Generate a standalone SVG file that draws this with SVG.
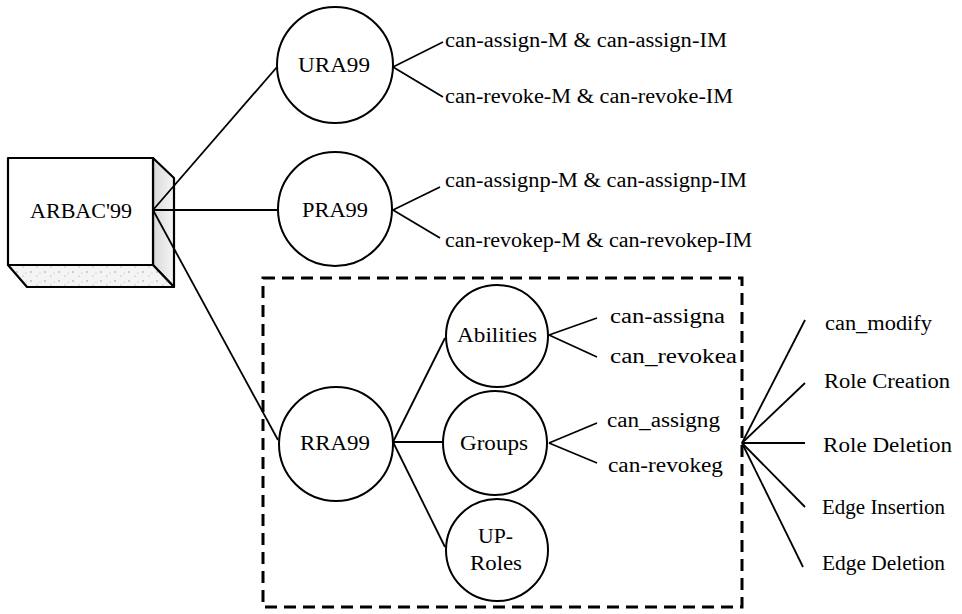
<svg xmlns="http://www.w3.org/2000/svg" width="962" height="614" viewBox="0 0 962 614">
  <style>
    .node { fill: #fff; stroke: #000; stroke-width: 2; }
    .lbl { font-family: "Liberation Serif", "DejaVu Serif", "Times New Roman", serif; font-size: 20px; fill: #000; }
    .edge { stroke: #000; stroke-width: 1.8; fill: none; }
    .frame { fill: none; stroke: #000; stroke-width: 3; stroke-dasharray: 12 7; }
    .box { stroke: #000; stroke-width: 2.2; stroke-linejoin: round; }
  </style>
  <defs>
    <linearGradient id="sideShade" x1="0" y1="0" x2="1" y2="0">
      <stop offset="0" stop-color="#d8d8d8"/>
      <stop offset="1" stop-color="#f6f6f6"/>
    </linearGradient>
    <pattern id="speckle" width="14" height="9" patternUnits="userSpaceOnUse">
      <rect width="14" height="9" fill="#f4f4f4"/>
      <circle cx="3" cy="2" r="0.7" fill="#888"/>
      <circle cx="9" cy="6" r="0.6" fill="#999"/>
      <circle cx="12" cy="3" r="0.5" fill="#aaa"/>
    </pattern>
  </defs>

  <!-- group frame around the role-role administration part -->
  <rect class="frame" x="263" y="278" width="479" height="329"/>

  <!-- ARBAC99 block -->
  <g id="arbac99" font-family="Liberation Serif, DejaVu Serif, serif">
    <polygon class="box" points="153,158 174,178 174,287 153,265" fill="url(#sideShade)"/>
    <polygon class="box" points="8,265 153,265 174,287 27,287" fill="url(#speckle)"/>
    <rect class="box" x="8" y="158" width="145" height="107" fill="#fff"/>
    <text class="lbl" x="30" y="218" textLength="102" lengthAdjust="spacingAndGlyphs">ARBAC'99</text>
  </g>

  <!-- connectors -->
  <g id="connectors">
    <line class="edge" x1="153" y1="210" x2="277" y2="67"/>
    <line class="edge" x1="153" y1="210" x2="277" y2="210"/>
    <line class="edge" x1="153" y1="210" x2="278" y2="440"/>

    <line class="edge" x1="393" y1="67" x2="443" y2="42"/>
    <line class="edge" x1="393" y1="67" x2="443" y2="97"/>

    <line class="edge" x1="393" y1="210" x2="440" y2="187"/>
    <line class="edge" x1="393" y1="210" x2="440" y2="238"/>

    <line class="edge" x1="393" y1="442" x2="445" y2="338"/>
    <line class="edge" x1="393" y1="442" x2="443" y2="442"/>
    <line class="edge" x1="393" y1="442" x2="445" y2="547"/>

    <line class="edge" x1="549" y1="335" x2="597" y2="318"/>
    <line class="edge" x1="549" y1="335" x2="597" y2="357"/>

    <line class="edge" x1="549" y1="443" x2="597" y2="423"/>
    <line class="edge" x1="549" y1="443" x2="597" y2="463"/>

    <line class="edge" x1="742" y1="443" x2="805" y2="320"/>
    <line class="edge" x1="742" y1="443" x2="805" y2="383"/>
    <line class="edge" x1="742" y1="443" x2="805" y2="443"/>
    <line class="edge" x1="742" y1="443" x2="805" y2="507"/>
    <line class="edge" x1="742" y1="443" x2="803" y2="567"/>
  </g>

  <g id="nodes" font-family="Liberation Serif, DejaVu Serif, serif">
    <g id="ura99">
      <circle class="node" cx="335" cy="65" r="58"/>
      <text class="lbl" x="298" y="72" textLength="72" lengthAdjust="spacingAndGlyphs">URA99</text>
    </g>
    <g id="pra99">
      <circle class="node" cx="335" cy="209" r="57"/>
      <text class="lbl" x="302" y="217" textLength="66" lengthAdjust="spacingAndGlyphs">PRA99</text>
    </g>
    <g id="rra99">
      <circle class="node" cx="336" cy="444" r="57"/>
      <text class="lbl" x="300" y="450" textLength="70" lengthAdjust="spacingAndGlyphs">RRA99</text>
    </g>
    <g id="abilities">
      <circle class="node" cx="497" cy="336" r="51"/>
      <text class="lbl" x="457" y="342" textLength="80" lengthAdjust="spacingAndGlyphs">Abilities</text>
    </g>
    <g id="groups">
      <circle class="node" cx="495" cy="443" r="52"/>
      <text class="lbl" x="460" y="450" textLength="68" lengthAdjust="spacingAndGlyphs">Groups</text>
    </g>
    <g id="up-roles">
      <circle class="node" cx="497" cy="550" r="51"/>
      <text class="lbl" x="478" y="543" textLength="35" lengthAdjust="spacingAndGlyphs">UP-</text>
      <text class="lbl" x="470" y="570" textLength="52" lengthAdjust="spacingAndGlyphs">Roles</text>
    </g>
  </g>

  <!-- leaf labels -->
  <g id="leaves" font-family="Liberation Serif, DejaVu Serif, serif">
    <text class="lbl" x="445" y="47" textLength="282" lengthAdjust="spacingAndGlyphs">can-assign-M &amp; can-assign-IM</text>
    <text class="lbl" x="445" y="103" textLength="288" lengthAdjust="spacingAndGlyphs">can-revoke-M &amp; can-revoke-IM</text>
    <text class="lbl" x="445" y="187" textLength="302" lengthAdjust="spacingAndGlyphs">can-assignp-M &amp; can-assignp-IM</text>
    <text class="lbl" x="445" y="247" textLength="307" lengthAdjust="spacingAndGlyphs">can-revokep-M &amp; can-revokep-IM</text>

    <text class="lbl" x="610" y="323" textLength="115" lengthAdjust="spacingAndGlyphs">can-assigna</text>
    <text class="lbl" x="610" y="363" textLength="127" lengthAdjust="spacingAndGlyphs">can_revokea</text>
    <text class="lbl" x="607" y="427" textLength="113" lengthAdjust="spacingAndGlyphs">can_assigng</text>
    <text class="lbl" x="608" y="472" textLength="115" lengthAdjust="spacingAndGlyphs">can-revokeg</text>

    <text class="lbl" x="825" y="330" textLength="107" lengthAdjust="spacingAndGlyphs">can_modify</text>
    <text class="lbl" x="824" y="388" textLength="126" lengthAdjust="spacingAndGlyphs">Role Creation</text>
    <text class="lbl" x="823" y="452" textLength="129" lengthAdjust="spacingAndGlyphs">Role Deletion</text>
    <text class="lbl" x="822" y="514" textLength="123" lengthAdjust="spacingAndGlyphs">Edge Insertion</text>
    <text class="lbl" x="822" y="570" textLength="123" lengthAdjust="spacingAndGlyphs">Edge Deletion</text>
  </g>
</svg>
